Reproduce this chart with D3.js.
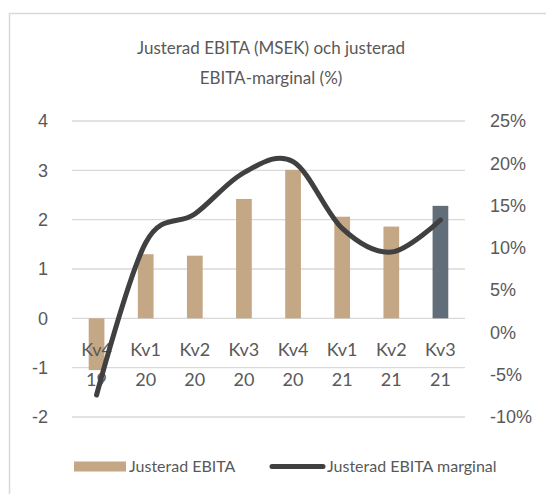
<!DOCTYPE html>
<html>
<head>
<meta charset="utf-8">
<script src="https://cdn.jsdelivr.net/npm/d3@7"></script>
<style>
  body { margin: 0; background: #fff; }
  svg { display: block; font-family: Lato, "Noto Sans", sans-serif; }
</style>
</head>
<body>
<script>
// data
var quarters = ["Kv4", "Kv1", "Kv2", "Kv3", "Kv4", "Kv1", "Kv2", "Kv3"];
var years = ["19", "20", "20", "20", "20", "21", "21", "21"];
var ebita = [-1.05, 1.30, 1.27, 2.42, 3.01, 2.06, 1.86, 2.28];
var marginal = [-7.4, 10.6, 14.0, 18.9, 20.2, 12.3, 9.5, 13.3];
var leftTicks = [-2, -1, 0, 1, 2, 3, 4];
var rightTicks = [-10, -5, 0, 5, 10, 15, 20, 25];

var W = 546, H = 494;
var margin = {top: 121, right: 81, bottom: 77, left: 72},
    width = W - margin.left - margin.right,
    height = H - margin.top - margin.bottom;

var svg = d3.select("body").append("svg")
    .attr("width", W)
    .attr("height", H);

// outer frame (only top and left are visible)
svg.append("rect")
    .attr("x", 9.5).attr("y", 13.5)
    .attr("width", 600).attr("height", 600)
    .attr("fill", "none")
    .attr("stroke", "#d9d9d9")
    .attr("stroke-width", 1.5);

// title
var title = svg.append("text")
    .attr("text-anchor", "middle")
    .attr("fill", "#595959")
    .style("font-size", "17px");
title.append("tspan").attr("x", 271).attr("y", 54).text("Justerad EBITA (MSEK) och justerad");
title.append("tspan").attr("x", 271).attr("y", 84).text("EBITA-marginal (%)");

var g = svg.append("g")
    .attr("transform", "translate(" + margin.left + "," + margin.top + ")");

var x = d3.scaleBand()
    .domain(d3.range(quarters.length))
    .range([0, width])
    .paddingInner(0.68)
    .paddingOuter(0.34);

var y = d3.scaleLinear().domain([-2, 4]).range([height, 0]);
var y2 = d3.scaleLinear().domain([-10, 25]).range([height, 0]);

// gridlines
g.append("g")
  .selectAll("line")
  .data(leftTicks)
  .enter()
  .append("line")
    .attr("x1", 0).attr("x2", width)
    .attr("y1", function(d) { return y(d); })
    .attr("y2", function(d) { return y(d); })
    .attr("stroke", "#d9d9d9")
    .attr("stroke-width", 1.3);

// left axis
var yAxis = g.append("g")
    .call(d3.axisLeft(y).tickValues(leftTicks).tickSize(0).tickPadding(24).tickFormat(function(d) { return String(d); }));
yAxis.select(".domain").remove();
yAxis.selectAll("text")
    .attr("fill", "#595959")
    .style("font-size", "18px");

// right axis
var y2Axis = g.append("g")
    .attr("transform", "translate(" + width + ",0)")
    .call(d3.axisRight(y2).tickValues(rightTicks).tickSize(0).tickPadding(25).tickFormat(function(d) { return d + "%"; }));
y2Axis.select(".domain").remove();
y2Axis.selectAll("text")
    .attr("fill", "#595959")
    .style("font-size", "18px");

// bars
g.append("g")
  .selectAll("rect")
  .data(ebita)
  .enter()
  .append("rect")
    .attr("x", function(d, i) { return x(i); })
    .attr("width", x.bandwidth())
    .attr("y", function(d) { return y(Math.max(0, d)); })
    .attr("height", function(d) { return Math.abs(y(d) - y(0)); })
    .attr("fill", function(d, i) { return i === ebita.length - 1 ? "#626d7a" : "#c4a784"; });

// category labels (two lines)
var cats = g.append("g")
  .selectAll("text")
  .data(quarters)
  .enter()
  .append("text")
    .attr("text-anchor", "middle")
    .attr("fill", "#595959")
    .style("font-size", "18px");
cats.append("tspan")
    .attr("x", function(d, i) { return x(i) + x.bandwidth() / 2; })
    .attr("y", y(0) + 38)
    .text(function(d) { return d; });
cats.append("tspan")
    .attr("x", function(d, i) { return x(i) + x.bandwidth() / 2; })
    .attr("y", y(0) + 68)
    .text(function(d, i) { return years[i]; });

// smoothed margin line
var line = d3.line()
    .x(function(d, i) { return x(i) + x.bandwidth() / 2; })
    .y(function(d) { return y2(d); })
    .curve(d3.curveCardinal.tension(0));

g.append("path")
    .datum(marginal)
    .attr("d", line)
    .attr("fill", "none")
    .attr("stroke", "#404040")
    .attr("stroke-width", 5)
    .attr("stroke-linecap", "round");

// legend
var leg = svg.append("g");
leg.append("rect")
    .attr("x", 74).attr("y", 461.5)
    .attr("width", 52).attr("height", 10)
    .attr("fill", "#c4a784");
leg.append("text")
    .attr("x", 129).attr("y", 472)
    .attr("fill", "#595959")
    .style("font-size", "16px")
    .text("Justerad EBITA");
leg.append("line")
    .attr("x1", 272).attr("x2", 323)
    .attr("y1", 466.5).attr("y2", 466.5)
    .attr("stroke", "#404040")
    .attr("stroke-width", 5)
    .attr("stroke-linecap", "round");
leg.append("text")
    .attr("x", 327).attr("y", 472)
    .attr("fill", "#595959")
    .style("font-size", "16px")
    .text("Justerad EBITA marginal");
</script>
</body>
</html>
